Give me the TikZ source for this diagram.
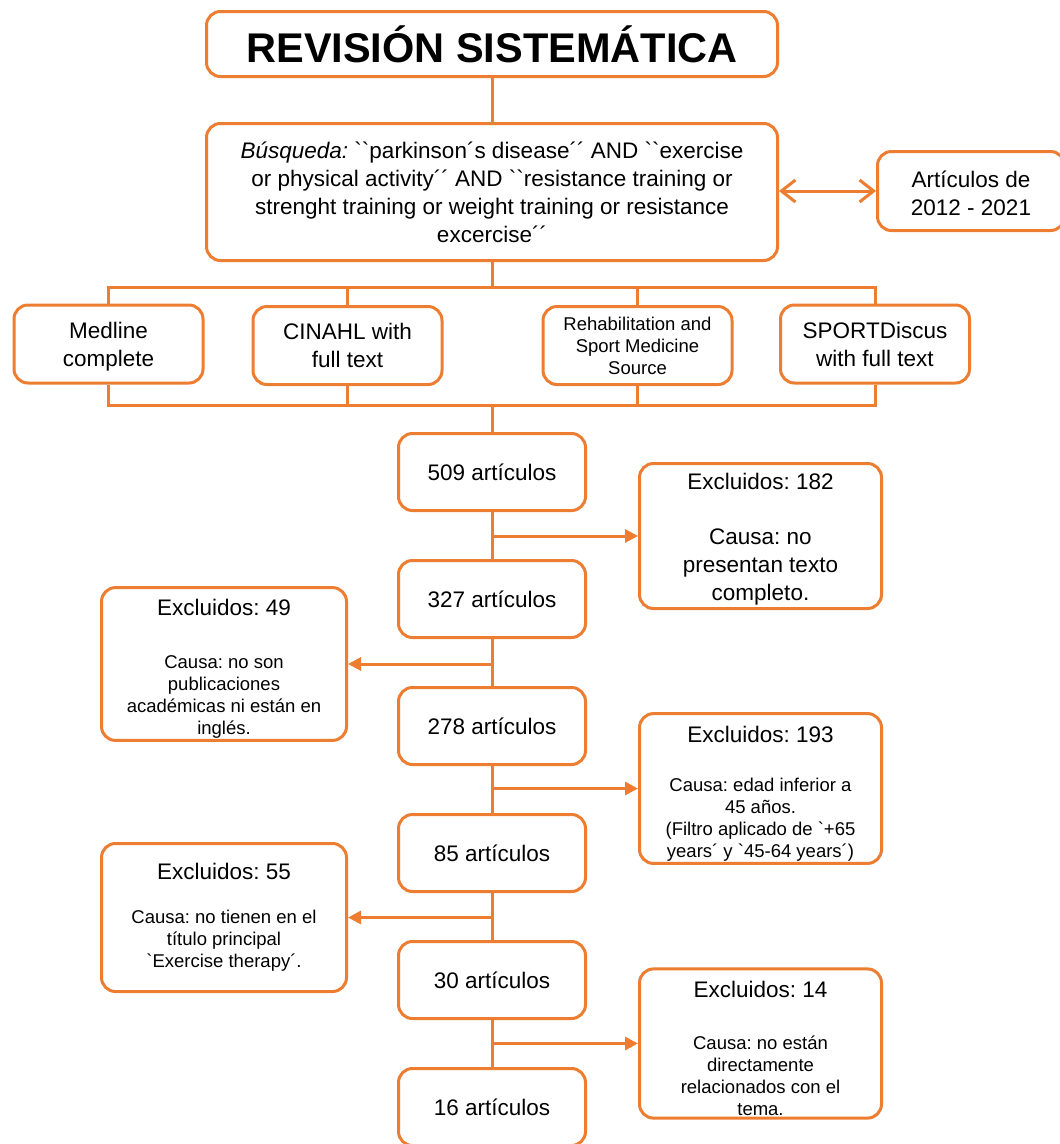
\documentclass[tikz,border=0pt]{standalone}
\usepackage{fontspec}
\setmainfont{Liberation Sans}
\newfontfamily\plainsans{Liberation Sans}
\usetikzlibrary{positioning,arrows.meta}
\definecolor{prisma}{HTML}{ED7D31}
\newcommand{\gq}{{\plainsans\symbol{96}}}
\frenchspacing

\begin{document}
\begin{tikzpicture}[
  x=1pt, y=-1pt,
  font=\fontsize{22.5}{28}\selectfont,
  box/.style={draw=prisma, line width=3pt, rounded corners=14pt, align=center, inner sep=2pt, fill=white},
  count/.style={box, minimum width=187pt, minimum height=77pt},
  base/.style={box, minimum width=189pt, minimum height=78pt},
  excl/.style={box, minimum width=242pt, font=\fontsize{18.5}{22}\selectfont},
  link/.style={draw=prisma, line width=3pt},
  arr/.style={link, -{Triangle[length=13pt,width=13pt]}},
  barb/.style={link, {Straight Barb[length=14pt,width=22pt]}-{Straight Barb[length=14pt,width=22pt]}},
]
\useasboundingbox (0,0) rectangle (1060,1144);
\clip (0,0) rectangle (1060,1144);

% title and search
\node[box, minimum width=571pt, minimum height=65pt] (title) at (492,44) {\fontsize{41.5}{48}\selectfont\bfseries REVISIÓN SISTEMÁTICA};
\node[box, minimum width=571pt, minimum height=137pt] (search) at (492,192) {\textit{Búsqueda:} \gq\gq parkinson´s disease´´ AND \gq\gq exercise\\ or physical activity´´ AND \gq\gq resistance training or\\ strenght training or weight training or resistance\\ excercise´´};
\node[box, minimum width=187pt, minimum height=79pt] (period) at (971,191) {\rule{0pt}{22pt}Artículos de\\2012 - 2021};

% databases
\node[base] (medline) at (108.5,344) {\rule{0pt}{21pt}Medline\\complete};
\node[base] (cinahl) at (347.5,345.5) {CINAHL with\\full text};
\node[base, font=\fontsize{18.5}{22}\selectfont] (rehab) at (637.5,345.5) {Rehabilitation and\\Sport Medicine\\Source};
\node[base] (sport) at (875,344) {SPORTDiscus\\with full text};
\coordinate (topbus) at (492,287);
\coordinate (botbus) at (492,405);

% article counts
\node[count] (n509) at (492,472) {509 artículos};
\node[count, below=47pt of n509] (n327) {327 artículos};
\node[count, below=47pt of n327] (n278) {278 artículos};
\node[count, below=47pt of n278] (n85) {85 artículos};
\node[count, below=47pt of n85] (n30) {30 artículos};
\node[count, below=47pt of n30] (n16) {16 artículos};

% exclusions
\node[excl, minimum height=145pt, font=\fontsize{22.5}{28}\selectfont] (ex182) at (760.5,536) {\rule{0pt}{22pt}Excluidos: 182\\[27pt]Causa: no\\presentan texto\\completo.};
\node[excl, minimum width=245pt, minimum height=149pt] (ex49) at (224,664) {{\fontsize{22.5}{22}\selectfont\rule{0pt}{26pt}Excluidos: 49}\\[31pt]Causa: no son\\publicaciones\\académicas ni están en\\inglés.};
\node[excl, minimum height=144pt] (ex193) at (760.5,788.5) {{\fontsize{22.5}{22}\selectfont\rule{0pt}{27pt}Excluidos: 193}\\[27pt]Causa: edad inferior a\\45 años.\\(Filtro aplicado de \gq+65\\years´ y \gq 45-64 years´)};
\node[excl, minimum width=245pt, minimum height=148pt] (ex55) at (224,917.5) {{\fontsize{22.5}{22}\selectfont Excluidos: 55}\\[22pt]Causa: no tienen en el\\título principal\\\gq Exercise therapy´.};
\node[excl, minimum height=144pt] (ex14) at (760.5,1043.5) {{\fontsize{22.5}{22}\selectfont\rule{0pt}{27pt}Excluidos: 14}\\[30pt]Causa: no están\\directamente\\relacionados con el\\tema.};

% connectors
\draw[link] (title) -- (search);
\draw[barb] (search.east |- period) -- (period.west);
\draw[link] (search) -- (topbus);
\draw[link] (medline) |- (topbus) -| (sport);
\draw[link] (cinahl) -- (cinahl |- topbus);
\draw[link] (rehab) -- (rehab |- topbus);
\draw[link] (medline) |- (botbus) -| (sport);
\draw[link] (cinahl) -- (cinahl |- botbus);
\draw[link] (rehab) -- (rehab |- botbus);
\draw[link] (botbus) -- (n509);
\draw[link] (n509) -- (n327) -- (n278) -- (n85) -- (n30) -- (n16);
\draw[arr] (n509 |- ex182) -- (ex182);
\draw[arr] (n327 |- ex49) -- (ex49);
\draw[arr] (n278 |- ex193) -- (ex193);
\draw[arr] (n85 |- ex55) -- (ex55);
\draw[arr] (n30 |- ex14) -- (ex14);
\end{tikzpicture}
\end{document}
